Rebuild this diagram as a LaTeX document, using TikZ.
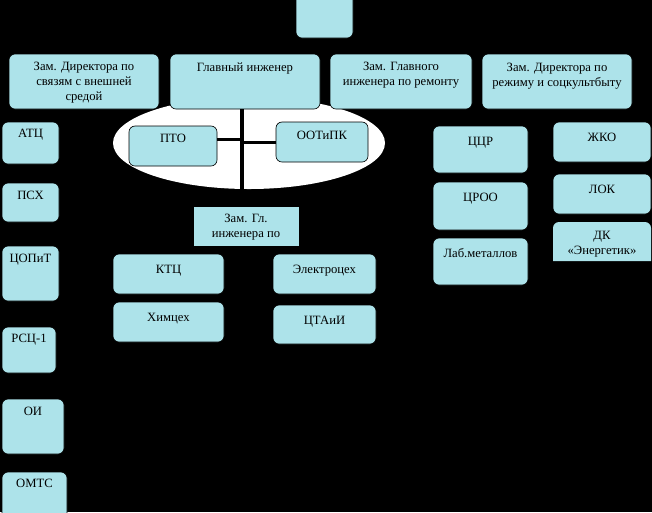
\documentclass[tikz,border=0pt]{standalone}
\usepackage{fontspec}
\setmainfont{Liberation Serif}
\newfontfamily\orgserif{Liberation Serif}
\usetikzlibrary{shapes.geometric}
\definecolor{boxc}{RGB}{173,227,234}
\newcommand\obox[8][]{%
  \node[box,#1,anchor=north west,minimum width={(#5-#3)*0.75pt},minimum height={(#6-#4)*0.75pt}] (#2) at (#3,#4) {};
  \node[txt,anchor=north] (#2-t) at ([yshift={-(#7-6.3)*0.75pt}]#2.north) {\strut #8};
}
\begin{document}
\begin{tikzpicture}[x=0.75pt,y=-0.75pt,
  box/.style={rectangle,fill=boxc,draw=black,line width=0.5pt,rounded corners=4.5pt,inner sep=0pt,outer sep=0pt},
  txt/.style={inner sep=0pt,align=center,font=\orgserif\fontsize{9.5pt}{11.25pt}\selectfont},
  vline/.style={line width=3.5pt,black},
  hline/.style={line width=2.25pt,black}]
\path[use as bounding box] (0,0) rectangle (652,512);
\clip (0,0) rectangle (652,512);
\fill[black] (0,0) rectangle (652,512);
% ellipse behind the engineering group
\node[ellipse,fill=white,inner sep=0pt,minimum width=204pt,minimum height=69pt] (ell) at (249,143) {};
% top box
\node[box,anchor=north west,minimum width={57*0.75pt},minimum height={48*0.75pt}] (topb) at (296,-10) {};
% second row
\obox{zd1}{9}{54}{159}{109}{12}{Зам. Директора по\\связям с внешней\\средой}
\obox{gi}{170}{54}{320}{109}{13}{Главный инженер}
\obox{zgr}{330}{54}{472}{109}{12}{Зам. Главного\\инженера по ремонту}
\obox{zd2}{482}{54}{632}{109}{13}{Зам. Директора по\\режиму и соцкультбыту}
% central group
\coordinate (vx) at (242,0);
\obox[sharp corners]{zgl}{193}{206}{299}{246}{12}{Зам. Гл.\\инженера по}
\draw[vline] (gi.south -| vx) -- (zgl.north -| vx);
\obox{pto}{129}{126}{217}{166}{12}{ПТО}
\obox{oot}{276}{122}{368}{162}{13}{ООТиПК}
\path ([yshift=5.25pt]pto.east) coordinate (pl);
\draw[hline] (pl) -- (pl -| vx);
\draw[hline] (oot.west) -- (oot.west -| vx);
\obox{ktc}{113}{254}{224}{294}{15}{КТЦ}
\obox{him}{113}{302}{224}{342}{15}{Химцех}
\obox{el}{273}{254}{376}{294}{15}{Электроцех}
\obox{cta}{273}{305}{376}{344}{15}{ЦТАиИ}
% repair column
\obox{ccr}{433}{126}{528}{173}{15}{ЦЦР}
\obox{croo}{433}{182}{528}{230}{15}{ЦРОО}
\obox{lab}{433}{238}{528}{285}{15}{Лаб.металлов}
% social column
\obox{zhko}{553}{122}{651}{162}{15}{ЖКО}
\obox{lok}{553}{174}{651}{214}{15}{ЛОК}
\fill[boxc] (553,261) [rounded corners=4.5pt] -- (553,222) -- (651,222) [sharp corners] -- (651,261) -- cycle;
\obox[draw=none,fill=none]{dk}{553}{222}{651}{261}{13}{ДК\\«Энергетик»}
% left column
\obox{atc}{2}{122}{59}{164}{11}{АТЦ}
\obox{psh}{2}{183}{59}{222}{12}{ПСХ}
\obox{copit}{2}{246}{59}{301}{12}{ЦОПиТ}
\obox{rsc}{2}{327}{56}{373}{11}{РСЦ-1}
\obox{oi}{2}{399}{64}{454}{12}{ОИ}
\obox{omts}{2}{472}{67}{520}{11}{ОМТС}
\end{tikzpicture}
\end{document}
